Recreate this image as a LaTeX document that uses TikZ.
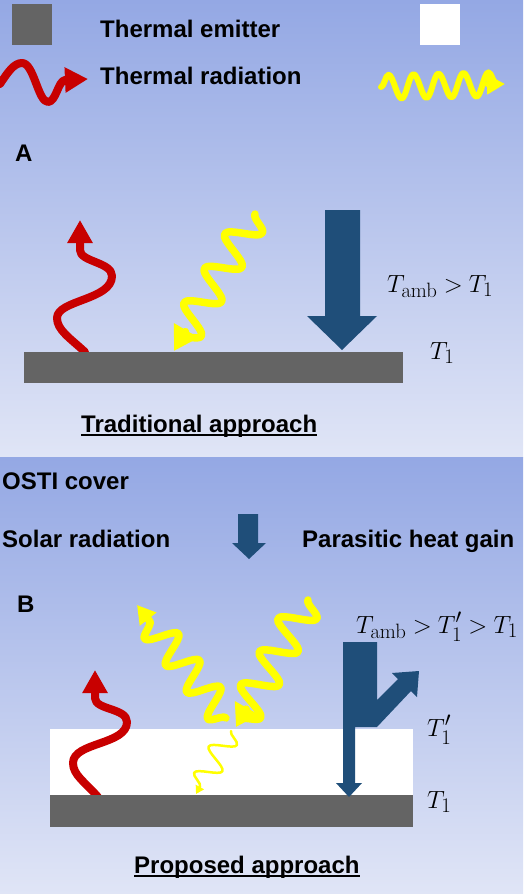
\documentclass[tikz,border=0pt]{standalone}
\usepackage{amsmath}
\usepackage[no-math]{fontspec}
\setmainfont{Liberation Sans}
\usepackage{tikz}
\usetikzlibrary{calc}
\usetikzlibrary{decorations.pathmorphing}
\usetikzlibrary{arrows.meta,positioning}
\DeclareMathSizes{24}{24}{20.74}{14.4}
\newcommand{\tightgt}{\thickmuskip=4.5mu\relax}

\definecolor{bgtop}{RGB}{148,168,228}
\definecolor{bgbot}{RGB}{224,229,246}
\definecolor{emitgray}{RGB}{100,100,100}
\definecolor{heatblue}{RGB}{31,78,121}
\definecolor{radred}{RGB}{200,0,0}
\definecolor{solaryellow}{RGB}{255,255,0}

\begin{document}
\begin{tikzpicture}[x=1pt,y=-1pt,>=Stealth,line cap=round,line join=round,
  boldtxt/.style={font=\fontsize{24}{28}\selectfont\bfseries,inner sep=0pt,anchor=base west},
  mathtxt/.style={font=\fontsize{24}{29}\selectfont,inner sep=0pt,anchor=base west},
  emitter/.style={fill=emitgray},
  cover/.style={fill=white},
  heat/.style={fill=heatblue},
  redwave/.style={draw=radred,line width=8pt,-{Triangle[length=23pt,width=24pt]}},
  sunwave/.style={draw=solaryellow,line width=7.5pt,decorate,-{Triangle[length=24pt,width=27pt]}},
  underl/.style={line width=2pt,line cap=butt}]
  \useasboundingbox (0,0) rectangle (523,894);

  % background
  \shade[top color=bgtop,bottom color=bgbot] (0,0) rectangle (523,457);
  \shade[top color=bgtop,bottom color=bgbot] (0,457) rectangle (523,894);

  % legend
  \fill[emitter] (12,4) rectangle (52,45);
  \node[boldtxt] (emitterlbl) at (100,37) {Thermal emitter};
  \fill[cover] (420,4) rectangle (460,45);
  \draw[redwave] (0,84) .. controls (8,72) and (14,63) .. (22,63)
    .. controls (34,63) and (38,102) .. (48,102)
    .. controls (56,102) and (58,81) .. (65,80) -- (88,79);
  \node[boldtxt] (radlbl) at (100,84) {Thermal radiation};
  \draw[sunwave,line width=6pt,-{Triangle[length=18pt,width=19pt]},
    decoration={snake,segment length=25pt,amplitude=12pt,post length=6pt}]
    (381,87) -- (505,84);

  % A: traditional approach
  \node[boldtxt] (lblA) at (15,161) {A};
  \coordinate (redA0) at (85,352);
  \coordinate (redA1) at (80,220);
  \draw[redwave] (redA0) .. controls (70,338) and (57,330) .. (57,318)
    .. controls (57,300) and (112,300) .. (112,276)
    .. controls (112,262) and (80,262) .. (80,250) -- (redA1);
  \coordinate (sunA0) at (255,214);
  \coordinate (sunA1) at (174,351);
  \draw[sunwave,decoration={snake,segment length=40pt,amplitude=16pt,post length=10pt}]
    (sunA0) -- (sunA1);
  \fill[emitter] (24,352) rectangle (403,383);
  \fill[heat] (325,210) -- (360,210) -- (360,316) -- (377,316) -- (342,350)
    -- (307,316) -- (325,316) -- cycle;
  \node[mathtxt] (tempA) at (387,292) {$\tightgt T_{\mathrm{amb}} > T_1$};
  \node[mathtxt] (tempA1) at (430,359) {$T_1$};
  \node[boldtxt] (tradlbl) at (81,432) {Traditional approach};
  \draw[underl] ([yshift=-2.5pt]tradlbl.base west) -- ([yshift=-2.5pt]tradlbl.base east);

  % legend, second half
  \node[boldtxt] (ostilbl) at (2,489) {OSTI cover};
  \node[boldtxt] (solarlbl) at (2,547) {Solar radiation};
  \fill[heat] (238,514) -- (258,514) -- (258,543) -- (266,543) -- (249,559)
    -- (232,543) -- (238,543) -- cycle;
  \node[boldtxt] (parlbl) at (302,547) {Parasitic heat gain};

  % B: proposed approach
  \node[boldtxt] (lblB) at (17,612) {B};
  \fill[cover] (50,729) rectangle (413,795);
  \coordinate (redB0) at (98,797);
  \coordinate (redB1) at (95,670);
  \draw[redwave] (redB0) .. controls (85,782) and (73,775) .. (73,763)
    .. controls (73,742) and (127,745) .. (127,722)
    .. controls (127,708) and (95,710) .. (95,698) -- (redB1);
  \fill[emitter] (50,795) rectangle (413,827);
  \coordinate (sunB0) at (308,600);
  \coordinate (sunB1) at (236,727);
  \coordinate (sunB2) at (226,718);
  \coordinate (sunB3) at (137,605);
  \coordinate (sunB4) at (231,731);
  \coordinate (sunB5) at (196,794);
  \draw[sunwave,-{Triangle[length=22pt,width=26pt]},
    decoration={snake,segment length=38pt,amplitude=17pt,post length=8pt}]
    (sunB0) -- (sunB1);
  \draw[sunwave,-{Triangle[length=18pt,width=20pt]},
    decoration={snake,segment length=34pt,amplitude=15pt,post length=8pt}]
    (sunB2) -- (sunB3);
  \draw[sunwave,line width=2.5pt,-{Triangle[length=8pt,width=9pt]},
    decoration={snake,segment length=30pt,amplitude=12pt,post length=4pt}]
    (sunB4) -- (sunB5);
  \fill[heat] (343,642) -- (377,642) -- (377,700) -- (398,679) -- (392,673)
    -- (419,671) -- (417,697) -- (411,691) -- (377,727) -- (355,727)
    -- (355,783) -- (362,783) -- (349,797) -- (336,783) -- (343,783) -- cycle;
  \node[mathtxt] (tempB) at (356,633) {$\tightgt T_{\mathrm{amb}} > T_1' > T_1$};
  \node[mathtxt] (tempB1p) at (427,736) {$T_1'$};
  \node[mathtxt] (tempB1) at (427,808) {$T_1$};
  \node[boldtxt] (proplbl) at (134,873) {Proposed approach};
  \draw[underl] ([yshift=-2.5pt]proplbl.base west) -- ([yshift=-2.5pt]proplbl.base east);
\end{tikzpicture}
\end{document}
